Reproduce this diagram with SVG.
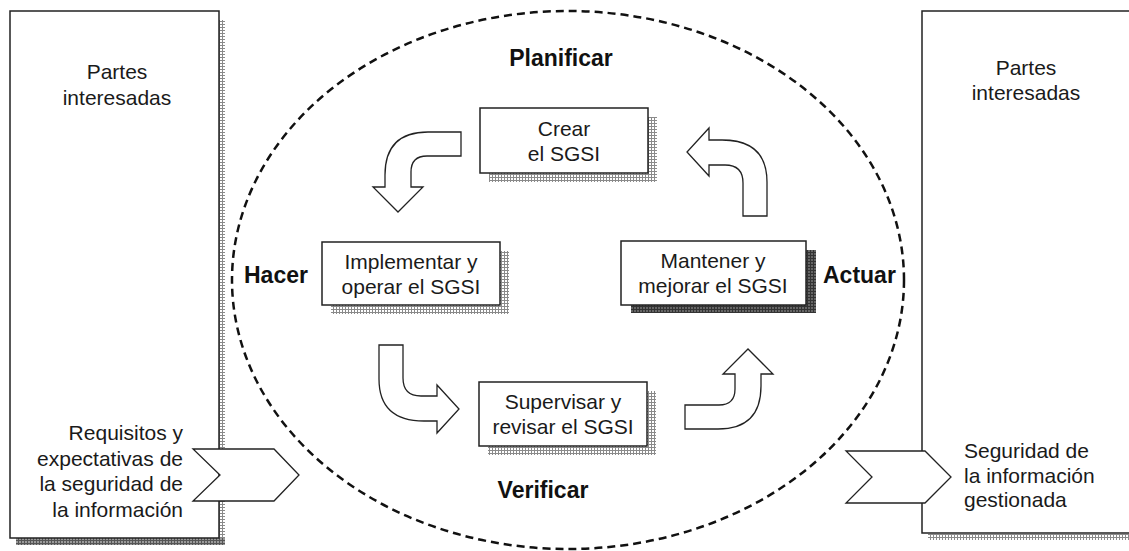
<svg xmlns="http://www.w3.org/2000/svg" width="1129" height="551" viewBox="0 0 1129 551">
<defs>
<pattern id="hatch" width="3" height="3" patternUnits="userSpaceOnUse"><rect width="3" height="3" fill="#fff"/><path d="M0 0.5H3M0.5 0V3" stroke="#8a8a8a" stroke-width="1"/></pattern>
<pattern id="hatchMid" width="3" height="3" patternUnits="userSpaceOnUse"><rect width="3" height="3" fill="#9a9a9a"/><path d="M0 0.5H3M0.5 0V3" stroke="#555" stroke-width="1"/></pattern>
<pattern id="hatchDark" width="3" height="3" patternUnits="userSpaceOnUse"><rect width="3" height="3" fill="#666"/><path d="M0 0.5H3M0.5 0V3" stroke="#333" stroke-width="1"/></pattern>
<style>
.box{fill:#fff;stroke:#222;stroke-width:1.5}
.arrow{fill:#fff;stroke:#222;stroke-width:1.3;stroke-linejoin:miter}
.t{font-family:"Liberation Sans",Arial,sans-serif;font-size:21px;fill:#1a1a1a}
.c{text-anchor:middle}
.r{text-anchor:end}
.b{font-family:"Liberation Sans",Arial,sans-serif;font-size:23px;font-weight:bold;fill:#111}
</style>
</defs>
<rect width="1129" height="551" fill="#fff"/>

<g id="cycle">
<ellipse cx="568" cy="280" rx="336" ry="269" fill="none" stroke="#111" stroke-width="2.5" stroke-dasharray="8 5"/>
</g>

<g id="partes-left">
<rect x="219" y="20" width="6" height="525" fill="url(#hatch)"/>
<rect x="16" y="538" width="209" height="7" fill="url(#hatchMid)"/>
<rect class="box" x="10" y="11" width="209" height="527"/>
<text class="t c" x="117" y="79">Partes</text>
<text class="t c" x="117" y="105">interesadas</text>
<text class="t r" x="183" y="440">Requisitos y</text>
<text class="t r" x="183" y="466">expectativas de</text>
<text class="t r" x="183" y="491">la seguridad de</text>
<text class="t r" x="183" y="517">la información</text>
</g>

<g id="partes-right">
<rect x="928" y="534" width="201" height="6" fill="url(#hatch)"/>
<rect class="box" x="922" y="11" width="220" height="522"/>
<text class="t c" x="1026" y="75">Partes</text>
<text class="t c" x="1026" y="100">interesadas</text>
<text class="t" x="964" y="458">Seguridad de</text>
<text class="t" x="964" y="483">la información</text>
<text class="t" x="964" y="507">gestionada</text>
</g>

<g id="input">
<polygon class="arrow" points="193,449 274,449 299,475 274,501 193,501 220,475"/>
</g>
<g id="output">
<polygon class="arrow" points="846,451 925,451 951,477 925,503 846,503 872,477"/>
</g>

<g id="labels">
<text class="b" x="561" y="66" text-anchor="middle">Planificar</text>
<text class="b" x="244" y="283">Hacer</text>
<text class="b" x="823" y="283">Actuar</text>
<text class="b" x="543" y="498" text-anchor="middle">Verificar</text>
</g>

<g id="crear">
<rect x="648" y="117" width="9" height="65" fill="url(#hatch)"/>
<rect x="489" y="173" width="168" height="9" fill="url(#hatch)"/>
<rect class="box" x="480" y="108" width="168" height="65"/>
<text class="t c" x="564" y="136">Crear</text>
<text class="t c" x="564" y="161">el SGSI</text>
</g>

<g id="implementar">
<rect x="500" y="251" width="9" height="63" fill="url(#hatch)"/>
<rect x="331" y="305" width="178" height="9" fill="url(#hatch)"/>
<rect class="box" x="322" y="242" width="178" height="63"/>
<text class="t c" x="411" y="269">Implementar y</text>
<text class="t c" x="411" y="294">operar el SGSI</text>
</g>

<g id="mantener">
<rect x="806" y="250" width="10" height="63" fill="url(#hatchDark)"/>
<rect x="631" y="305" width="185" height="8" fill="url(#hatchDark)"/>
<rect class="box" x="621" y="241" width="185" height="64"/>
<text class="t c" x="713" y="268">Mantener y</text>
<text class="t c" x="713" y="293">mejorar el SGSI</text>
</g>

<g id="supervisar">
<rect x="647" y="391" width="9" height="64" fill="url(#hatch)"/>
<rect x="488" y="446" width="168" height="9" fill="url(#hatch)"/>
<rect class="box" x="479" y="382" width="168" height="64"/>
<text class="t c" x="563" y="409">Supervisar y</text>
<text class="t c" x="563" y="434">revisar el SGSI</text>
</g>

<g id="connectors">
<path class="arrow" d="M461,132 L428,132 Q385,132 385,175 L385,187 L373,187 L398,212 L423,187 L411,187 L411,172 Q411,156 427,156 L461,156 Z"/>
<path class="arrow" d="M743,216 L767,216 L767,182 Q767,140 722,140 L709,140 L709,128 L687,152 L709,176 L709,165 L725,165 Q743,165 743,183 Z"/>
<path class="arrow" transform="rotate(180 573 280.5)" d="M743,216 L767,216 L767,182 Q767,140 722,140 L709,140 L709,128 L687,152 L709,176 L709,165 L725,165 Q743,165 743,183 Z"/>
<path class="arrow" transform="rotate(180 573 280.5)" d="M461,132 L428,132 Q385,132 385,175 L385,187 L373,187 L398,212 L423,187 L411,187 L411,172 Q411,156 427,156 L461,156 Z"/>
</g>
</svg>
